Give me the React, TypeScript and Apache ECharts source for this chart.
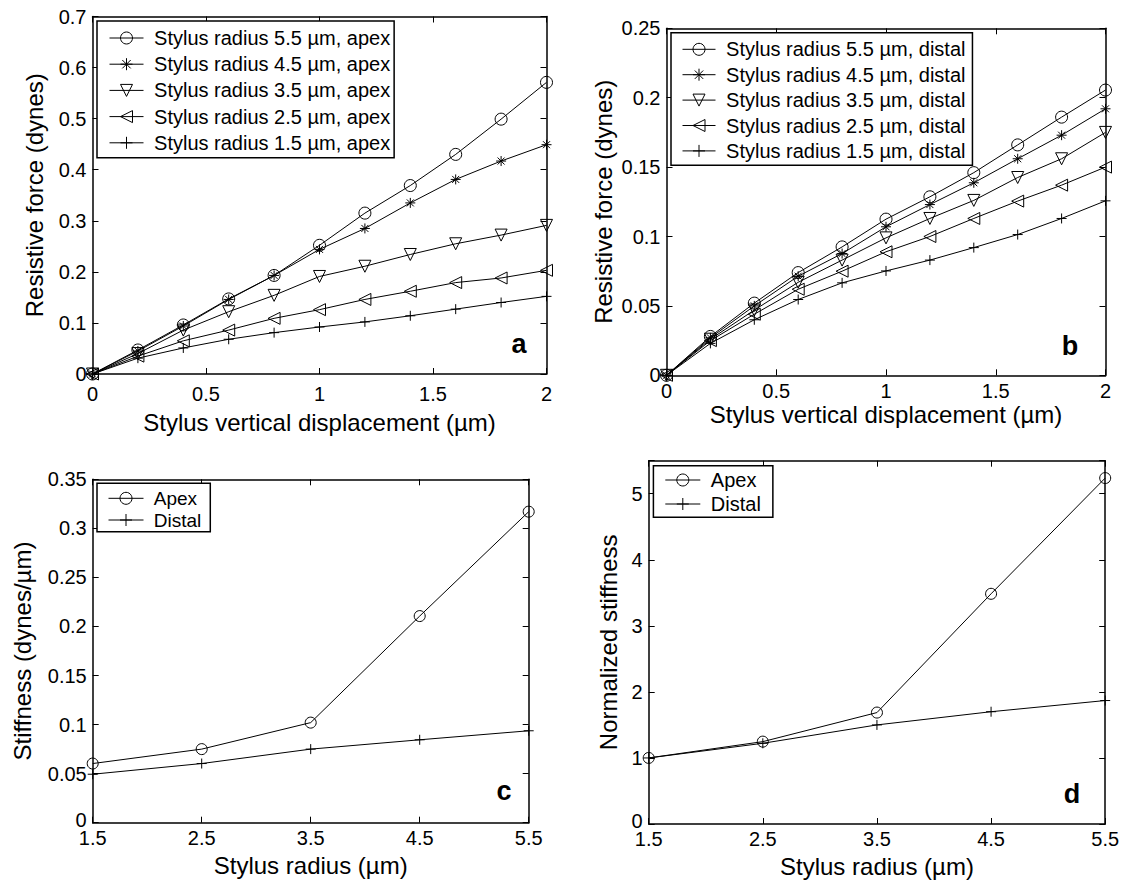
import React, { useEffect, useRef } from 'react';
import * as echarts from 'echarts';

// ---------- data ----------
const displacement = [0, 0.2, 0.4, 0.6, 0.8, 1.0, 1.2, 1.4, 1.6, 1.8, 2.0];
const apex55 = [0, 0.047, 0.096, 0.147, 0.193, 0.252, 0.315, 0.369, 0.43, 0.499, 0.571];
const apex45 = [0, 0.045, 0.094, 0.146, 0.193, 0.244, 0.285, 0.335, 0.381, 0.417, 0.449];
const apex35 = [0, 0.04, 0.086, 0.122, 0.154, 0.191, 0.211, 0.234, 0.255, 0.272, 0.291];
const apex25 = [0, 0.035, 0.065, 0.086, 0.109, 0.126, 0.146, 0.162, 0.179, 0.188, 0.203];
const apex15 = [0, 0.031, 0.051, 0.068, 0.081, 0.092, 0.102, 0.114, 0.127, 0.14, 0.152];
const distal55 = [0, 0.028, 0.052, 0.074, 0.0925, 0.1125, 0.1286, 0.146, 0.166, 0.186, 0.2055];
const distal45 = [0, 0.027, 0.05, 0.0714, 0.0877, 0.107, 0.123, 0.1387, 0.156, 0.173, 0.192];
const distal35 = [0, 0.026, 0.047, 0.067, 0.083, 0.099, 0.113, 0.126, 0.1425, 0.156, 0.175];
const distal25 = [0, 0.025, 0.044, 0.062, 0.075, 0.089, 0.1, 0.113, 0.1255, 0.137, 0.15];
const distal15 = [0, 0.023, 0.04, 0.0546, 0.0666, 0.0752, 0.083, 0.092, 0.1014, 0.113, 0.1257];

const radii = ['1.5', '2.5', '3.5', '4.5', '5.5'];
const stiffApex = [0.0603, 0.075, 0.102, 0.2106, 0.317];
const stiffDistal = [0.0494, 0.0603, 0.075, 0.0845, 0.0937];
const normApex = [1.0, 1.247, 1.687, 3.485, 5.237];
const normDistal = [1.0, 1.222, 1.5, 1.7, 1.869];

const apexNames = [
  'Stylus radius 5.5 µm, apex',
  'Stylus radius 4.5 µm, apex',
  'Stylus radius 3.5 µm, apex',
  'Stylus radius 2.5 µm, apex',
  'Stylus radius 1.5 µm, apex',
];
const distalNames = [
  'Stylus radius 5.5 µm, distal',
  'Stylus radius 4.5 µm, distal',
  'Stylus radius 3.5 µm, distal',
  'Stylus radius 2.5 µm, distal',
  'Stylus radius 1.5 µm, distal',
];
const stiffNames = ['Apex', 'Distal'];

// ---------- styles ----------
const FONT = "'Liberation Sans', Arial, Helvetica, sans-serif";
const SYM_CIRCLE = 'circle';
const SYM_STAR = 'path://M5,0 L5,10 M0,5 L10,5 M1.5,1.5 L8.5,8.5 M1.5,8.5 L8.5,1.5';
const SYM_DOWN = 'path://M0,0 L10,0 L5,9 Z';
const SYM_LEFT = 'path://M0,5 L9,0 L9,10 Z';
const SYM_PLUS = 'path://M5,0 L5,10 M0,5 L10,5';
const markerSet = [
  { symbol: SYM_CIRCLE, size: 12 },
  { symbol: SYM_STAR, size: 10 },
  { symbol: SYM_DOWN, size: 12 },
  { symbol: SYM_LEFT, size: 12 },
  { symbol: SYM_PLUS, size: 10 },
];

function lineSeries(name: string, data: any[], symbol: string, size: number, xi: number, yi: number) {
  return {
    type: 'line',
    name,
    xAxisIndex: xi,
    yAxisIndex: yi,
    data,
    symbol,
    symbolSize: size,
    showSymbol: true,
    showAllSymbol: true,
    lineStyle: { color: '#000', width: 1 },
    itemStyle: { color: 'rgba(0,0,0,0)', borderColor: '#000', borderWidth: 1 },
    emphasis: { disabled: true },
    silent: true,
  };
}

function axisCommon(position: string, showLabel: boolean, margin: number) {
  return {
    position,
    axisLine: { show: true, onZero: false, lineStyle: { color: '#000', width: 1.5 } },
    axisTick: { show: true, inside: true, length: 6, lineStyle: { color: '#000', width: 1 } },
    splitLine: { show: false },
    axisLabel: {
      show: showLabel,
      color: '#000',
      fontSize: 20,
      lineHeight: 14,
      fontFamily: FONT,
      margin,
    },
  };
}

const TITLE_STYLE = { color: '#000', fontSize: 24, fontFamily: FONT };

function valueAxisPair(
  kind: 'x' | 'y',
  gridIndex: number,
  min: number,
  max: number,
  interval: number,
  name: string,
  nameGap: number,
  labelMargin: number,
  hideAbove?: number,
  raiseZero?: boolean
) {
  const main: any = {
    type: 'value',
    gridIndex,
    min,
    max,
    interval,
    ...axisCommon(kind === 'x' ? 'bottom' : 'left', true, labelMargin),
    name,
    nameLocation: 'middle',
    nameGap,
    nameTextStyle: TITLE_STYLE,
  };
  if (hideAbove !== undefined || raiseZero) {
    main.axisLabel.formatter = (v: number) => {
      if (hideAbove !== undefined && v > hideAbove + 1e-9) return '';
      if (raiseZero && v === 0) return '{z|0}';
      return String(v);
    };
    main.axisLabel.rich = {
      z: { fontSize: 20, lineHeight: 14, fontFamily: FONT, color: '#000', padding: [0, 0, 6, 0] },
    };
  }
  const twin: any = {
    type: 'value',
    gridIndex,
    min,
    max,
    interval,
    ...axisCommon(kind === 'x' ? 'top' : 'right', false, 6),
  };
  return [main, twin];
}

function categoryAxisPair(gridIndex: number, name: string, nameGap: number, labelMargin: number) {
  const main: any = {
    type: 'category',
    gridIndex,
    data: radii,
    boundaryGap: false,
    ...axisCommon('bottom', true, labelMargin),
    name,
    nameLocation: 'middle',
    nameGap,
    nameTextStyle: TITLE_STYLE,
  };
  main.axisLabel.interval = 0;
  main.axisTick.alignWithLabel = true;
  const twin: any = {
    type: 'category',
    gridIndex,
    data: radii,
    boundaryGap: false,
    ...axisCommon('top', false, 6),
  };
  return [main, twin];
}

function legendBox(
  names: string[],
  left: number,
  top: number,
  padding: number[],
  itemGap: number,
  fontSize: number,
  itemWidth: number
) {
  return {
    show: true,
    data: names,
    orient: 'vertical',
    left,
    top,
    padding,
    itemGap,
    itemWidth,
    itemHeight: 15,
    selectedMode: false,
    backgroundColor: '#fff',
    borderColor: '#000',
    borderWidth: 1.5,
    borderRadius: 0,
    formatter: '\u00a0{name}',
    textStyle: { color: '#000', fontSize, lineHeight: fontSize, fontFamily: FONT },
    itemStyle: { color: 'rgba(0,0,0,0)', borderColor: '#000', borderWidth: 1 },
    lineStyle: { color: '#000', width: 1 },
  };
}

function panelLetter(text: string, x: number, y: number) {
  return {
    type: 'text',
    x,
    y,
    silent: true,
    style: {
      text,
      fill: '#000',
      font: `bold 27px ${FONT}`,
      align: 'center',
      verticalAlign: 'middle',
    },
  };
}

function buildOption() {
  const [axA, axAt] = valueAxisPair('x', 0, 0, 2, 0.5, 'Stylus vertical displacement (µm)', 36, 13);
  const [ayA, ayAr] = valueAxisPair('y', 0, 0, 0.7, 0.1, 'Resistive force (dynes)', 46, 6);
  const [axB, axBt] = valueAxisPair('x', 1, 0, 2, 0.5, 'Stylus vertical displacement (µm)', 24, 9);
  const [ayB, ayBr] = valueAxisPair('y', 1, 0, 0.25, 0.05, 'Resistive force (dynes)', 51, 6);
  const [axC, axCt] = categoryAxisPair(2, 'Stylus radius (µm)', 31, 8);
  const [ayC, ayCr] = valueAxisPair('y', 2, 0, 0.35, 0.05, 'Stiffness (dynes/µm)', 58, 6, undefined, true);
  const [axD, axDt] = categoryAxisPair(3, 'Stylus radius (µm)', 30, 8);
  const [ayD, ayDr] = valueAxisPair('y', 3, 0, 5.5, 1, 'Normalized stiffness', 28, 6, 5, true);

  const apexSets = [apex55, apex45, apex35, apex25, apex15];
  const distalSets = [distal55, distal45, distal35, distal25, distal15];

  const series: any[] = [];
  apexSets.forEach((ys, k) => {
    series.push(
      lineSeries(apexNames[k], displacement.map((x, i) => [x, ys[i]]), markerSet[k].symbol, markerSet[k].size, 0, 0)
    );
  });
  distalSets.forEach((ys, k) => {
    series.push(
      lineSeries(distalNames[k], displacement.map((x, i) => [x, ys[i]]), markerSet[k].symbol, markerSet[k].size, 2, 2)
    );
  });
  series.push(lineSeries(stiffNames[0], stiffApex, SYM_CIRCLE, 11, 4, 4));
  series.push(lineSeries(stiffNames[1], stiffDistal, SYM_PLUS, 10, 4, 4));
  series.push(lineSeries(stiffNames[0], normApex, SYM_CIRCLE, 11, 6, 6));
  series.push(lineSeries(stiffNames[1], normDistal, SYM_PLUS, 10, 6, 6));

  return {
    animation: false,
    backgroundColor: '#fff',
    textStyle: { fontFamily: FONT },
    grid: [
      { left: 92.5, top: 16.5, width: 454, height: 357.5 },
      { left: 666.5, top: 28.3, width: 439, height: 347 },
      { left: 92.7, top: 479.3, width: 436, height: 343.4 },
      { left: 648.7, top: 460.7, width: 456.5, height: 363.3 },
    ],
    xAxis: [axA, axAt, axB, axBt, axC, axCt, axD, axDt],
    yAxis: [ayA, ayAr, ayB, ayBr, ayC, ayCr, ayD, ayDr],
    legend: [
      legendBox(apexNames, 97, 21, [7, 4, 5, 12], 6.2, 20, 34),
      legendBox(distalNames, 671, 32.7, [6.6, 7, 4.3, 11], 5.4, 20, 33),
      legendBox(stiffNames.slice(), 97, 483.3, [5.5, 9, 2.2, 11], 2.7, 19, 35),
      legendBox(stiffNames.slice(), 653.4, 465.7, [4.3, 12, 3.3, 11.4], 4, 20, 35),
    ],
    graphic: [
      panelLetter('a', 519, 344),
      panelLetter('b', 1070, 346),
      panelLetter('c', 504, 791),
      panelLetter('d', 1072, 794),
    ],
    series,
  };
}

export default function App() {
  const ref = useRef<HTMLDivElement>(null);
  useEffect(() => {
    if (!ref.current) return;
    const chart = echarts.init(ref.current, undefined, { renderer: 'svg' });
    chart.setOption(buildOption() as any);
    return () => chart.dispose();
  }, []);
  return (
    <div
      ref={ref}
      style={{ position: 'absolute', left: 0, top: 0, width: 1129, height: 883, background: '#fff' }}
    />
  );
}
